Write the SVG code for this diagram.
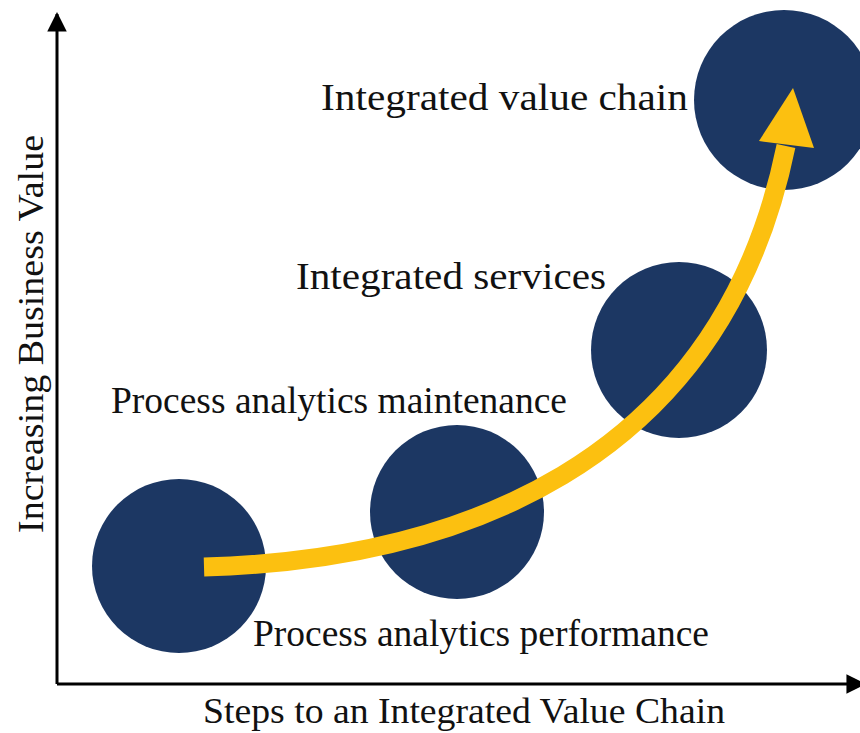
<svg xmlns="http://www.w3.org/2000/svg" width="860" height="733" viewBox="0 0 860 733">
  <style>
    .stage { fill: #1c3763; }
    .label { font-family: "Liberation Serif", "DejaVu Serif", serif; font-size: 38px; fill: #111111; }
    .axis-label { font-family: "Liberation Serif", "Times New Roman", serif; font-size: 36px; fill: #111111; }
    .axis { stroke: #000000; stroke-width: 3; fill: none; }
  </style>
  <defs>
    <marker id="axis-head" viewBox="0 0 10 10" refX="9" refY="5" markerWidth="6.5" markerHeight="6.5" markerUnits="strokeWidth" orient="auto">
      <path d="M0,0 L10,5 L0,10 z" fill="#000000"/>
    </marker>
  </defs>
  <rect width="860" height="733" fill="#ffffff"/>

  <!-- axes -->
  <g id="axes">
    <path class="axis" d="M57,684 L57,14" marker-end="url(#axis-head)"/>
    <path class="axis" d="M57,684 L864,684" marker-end="url(#axis-head)"/>
    <text class="axis-label" x="203" y="723" textLength="522" lengthAdjust="spacingAndGlyphs">Steps to an Integrated Value Chain</text>
    <text class="axis-label" transform="translate(43,533) rotate(-90)" x="0" y="0" textLength="398" lengthAdjust="spacingAndGlyphs">Increasing Business Value</text>
  </g>

  <!-- stages -->
  <g id="stage-performance">
    <circle class="stage" cx="179" cy="566" r="87"/>
    <text class="label" x="253" y="646" textLength="456" lengthAdjust="spacingAndGlyphs">Process analytics performance</text>
  </g>
  <g id="stage-maintenance">
    <circle class="stage" cx="457" cy="512" r="87"/>
    <text class="label" x="111" y="413" textLength="456" lengthAdjust="spacingAndGlyphs">Process analytics maintenance</text>
  </g>
  <g id="stage-services">
    <circle class="stage" cx="679" cy="350" r="88"/>
    <text class="label" x="296" y="289" textLength="310" lengthAdjust="spacingAndGlyphs">Integrated services</text>
  </g>
  <g id="stage-value-chain">
    <circle class="stage" cx="784" cy="100" r="90"/>
    <text class="label" x="321" y="110" textLength="367" lengthAdjust="spacingAndGlyphs">Integrated value chain</text>
  </g>

  <!-- growth arrow -->
  <g id="connectors">
    <path d="M204,567 C450,560 720,470 786,146" fill="none" stroke="#fcc010" stroke-width="19"/>
    <polygon points="793,88 759,141 814,148" fill="#fcc010"/>
  </g>
</svg>
